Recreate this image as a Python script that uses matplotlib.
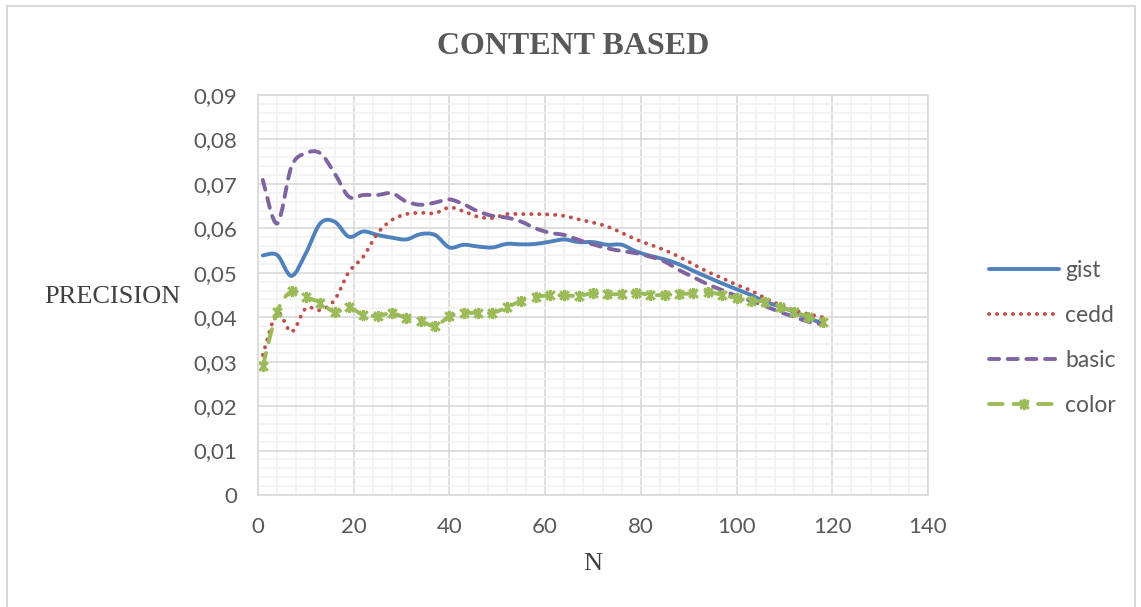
import matplotlib
matplotlib.use("Agg")
import matplotlib.pyplot as plt
import numpy as np
from matplotlib.path import Path
from matplotlib.patches import PathPatch, Rectangle
from matplotlib.lines import Line2D

# N values (one point every 3)
N = list(range(1, 119, 3))

gist = [0.0539, 0.0540, 0.0493, 0.0544, 0.0611, 0.0615, 0.0581, 0.0593, 0.0585, 0.0579,
        0.0575, 0.0587, 0.0585, 0.0557, 0.0563, 0.0559, 0.0557, 0.0565, 0.0564, 0.0565,
        0.0570, 0.0575, 0.0569, 0.0569, 0.0563, 0.0563, 0.0548, 0.0538, 0.0530, 0.0519,
        0.0504, 0.0490, 0.0476, 0.0463, 0.0450, 0.0435, 0.0424, 0.0412, 0.0398, 0.0386]

cedd = [0.0315, 0.0409, 0.0367, 0.0420, 0.0416, 0.0439, 0.0502, 0.0536, 0.0589, 0.0619,
        0.0632, 0.0635, 0.0634, 0.0647, 0.0638, 0.0626, 0.0623, 0.0632, 0.0632, 0.0632,
        0.0631, 0.0628, 0.0620, 0.0613, 0.0604, 0.0590, 0.0575, 0.0563, 0.0551, 0.0536,
        0.0519, 0.0502, 0.0488, 0.0473, 0.0460, 0.0443, 0.0428, 0.0416, 0.0407, 0.0400]

basic = [0.0709, 0.0611, 0.0739, 0.0769, 0.0769, 0.0724, 0.0671, 0.0675, 0.0675, 0.0679,
         0.0660, 0.0653, 0.0658, 0.0665, 0.0654, 0.0638, 0.0628, 0.0624, 0.0615, 0.0600,
         0.0590, 0.0585, 0.0574, 0.0564, 0.0555, 0.0549, 0.0544, 0.0536, 0.0525, 0.0506,
         0.0490, 0.0474, 0.0461, 0.0448, 0.0437, 0.0425, 0.0412, 0.0401, 0.0390, 0.0384]

color = [0.0290, 0.0412, 0.0458, 0.0445, 0.0433, 0.0412, 0.0422, 0.0405, 0.0403, 0.0409,
         0.0398, 0.0392, 0.0380, 0.0402, 0.0409, 0.0410, 0.0410, 0.0422, 0.0437, 0.0446,
         0.0449, 0.0449, 0.0448, 0.0454, 0.0452, 0.0452, 0.0455, 0.0450, 0.0450, 0.0452,
         0.0454, 0.0457, 0.0450, 0.0443, 0.0437, 0.0435, 0.0424, 0.0412, 0.0401, 0.0390]

x_ticks = [0, 20, 40, 60, 80, 100, 120, 140]
y_ticks = [0, 0.01, 0.02, 0.03, 0.04, 0.05, 0.06, 0.07, 0.08, 0.09]
y_labels = ["0", "0,01", "0,02", "0,03", "0,04", "0,05", "0,06", "0,07", "0,08", "0,09"]

BLUE = "#4F81BD"
RED = "#C0504D"
PURPLE = "#8064A2"
GREEN = "#9BBB59"
GREY = "#595959"


def smooth_path(x, y):
    # cubic bezier through all points (catmull-rom style tangents)
    pts = np.column_stack([x, y])
    p = np.vstack([pts[0], pts, pts[-1]])
    verts = [tuple(pts[0])]
    codes = [Path.MOVETO]
    for i in range(1, len(p) - 2):
        p0, p1, p2, p3 = p[i - 1], p[i], p[i + 1], p[i + 2]
        c1 = p1 + (p2 - p0) / 6.0
        c2 = p2 - (p3 - p1) / 6.0
        verts += [tuple(c1), tuple(c2), tuple(p2)]
        codes += [Path.CURVE4] * 3
    return Path(verts, codes)


star = Path([(-1, -1), (1, 1), (-1, 1), (1, -1), (0, -1.3), (0, 1.3)],
            [Path.MOVETO, Path.LINETO, Path.MOVETO, Path.LINETO, Path.MOVETO, Path.LINETO])

fig = plt.figure(figsize=(11.41, 6.07), dpi=100)
ax = fig.add_axes([258 / 1141, 1 - 495 / 607, 670 / 1141, 400 / 607])

# chart border
fig.patches.append(Rectangle((6.5 / 1141, -0.05), 1128 / 1141, 1.05 - 5.5 / 607,
                             transform=fig.transFigure, fill=False,
                             edgecolor="#D9D9D9", linewidth=1.5))

ax.set_xlim(0, 140)
ax.set_ylim(0, 0.09)
ax.set_xticks(x_ticks)
ax.set_yticks(y_ticks)
ax.set_yticklabels(y_labels)
ax.set_xticks(np.arange(0, 141, 4), minor=True)
ax.set_yticks(np.arange(0, 0.0901, 0.002), minor=True)
ax.grid(which="minor", color="#F2F2F2", linewidth=1.2)
ax.grid(which="major", color="#D9D9D9", linewidth=1.2)
ax.set_axisbelow(True)
ax.tick_params(which="both", length=0)
ax.tick_params(axis="both", labelsize=16, labelcolor=GREY)
ax.tick_params(axis="y", pad=15)
ax.tick_params(axis="x", pad=16)
for lab in ax.get_xticklabels() + ax.get_yticklabels():
    lab.set_fontfamily("Lato")
for s in ax.spines.values():
    s.set_color("#D9D9D9")
    s.set_linewidth(1.2)

lw = 2.8
series = [
    ("gist", gist, BLUE, "-"),
    ("cedd", cedd, RED, (0, (0.05, 2.0))),
    ("basic", basic, PURPLE, (0, (2.6, 2.2))),
    ("color", color, GREEN, (0, (3.5, 2.8))),
]
handles = []
for name, vals, col, ls in series:
    patch = PathPatch(smooth_path(N, vals), facecolor="none", edgecolor=col,
                      linewidth=lw, linestyle=ls, capstyle="round", joinstyle="round")
    ax.add_patch(patch)
    if name == "color":
        ax.plot(N, vals, linestyle="none", marker=star, markersize=8,
                markeredgewidth=2.2, color=col)
        h = Line2D([], [], color=col, linewidth=lw, linestyle=ls, marker=star,
                   markersize=8, markeredgewidth=2.2, dash_capstyle="round")
    else:
        h = Line2D([], [], color=col, linewidth=lw, linestyle=ls,
                   dash_capstyle="round", solid_capstyle="round")
    handles.append(h)

leg = fig.legend(handles, [s[0] for s in series], loc="center left",
                 bbox_to_anchor=(968 / 1141, 1 - 338 / 607), frameon=False,
                 handlelength=3.05, handletextpad=0.3, labelspacing=1.05,
                 prop={"family": "Lato", "size": 16.5})
for t in leg.get_texts():
    t.set_color(GREY)

fig.text(573 / 1141, 1 - 46 / 607, "CONTENT BASED", ha="center", va="center",
         fontsize=23, fontweight="bold", family="Liberation Serif", color=GREY)
fig.text(112 / 1141, 1 - 297 / 607, "PRECISION", ha="center", va="center",
         fontsize=19, family="Liberation Serif", color="#404040")
fig.text(593 / 1141, 1 - 564 / 607, "N", ha="center", va="center",
         fontsize=19, family="Liberation Serif", color="#404040")

fig.savefig("out.png", dpi=100)
